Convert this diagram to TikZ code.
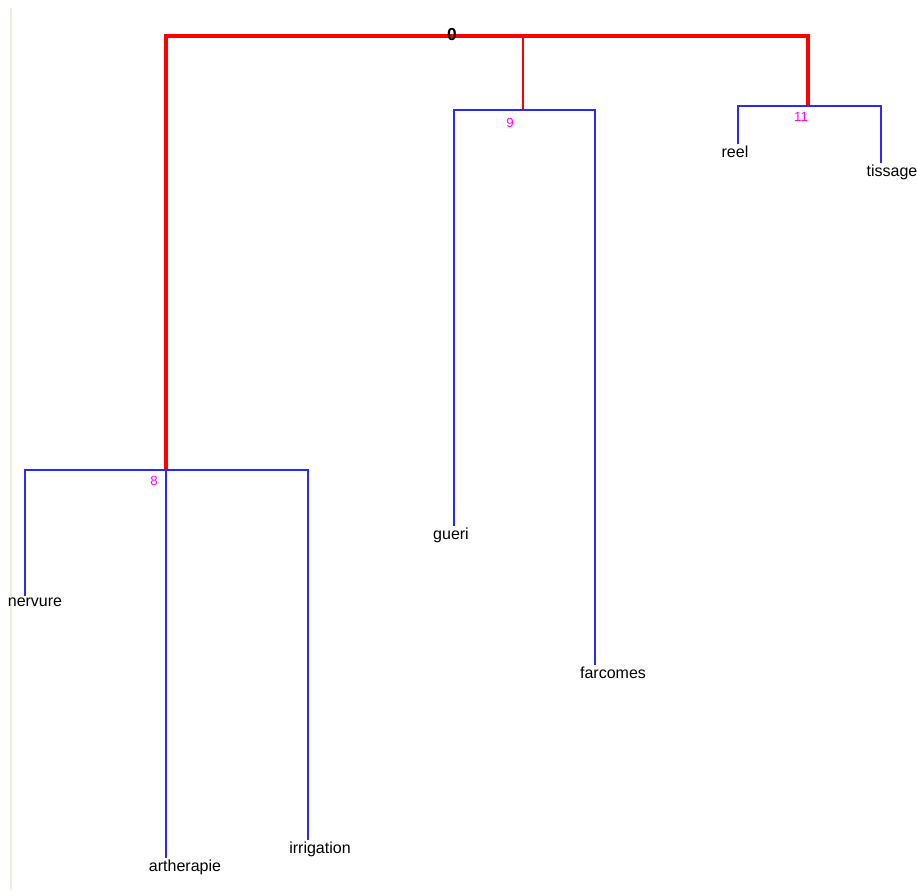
\documentclass[tikz,border=0pt]{standalone}
\usepackage{fontspec}
\setmainfont{Liberation Sans}
\definecolor{treered}{RGB}{255,0,0}
\definecolor{treeblue}{RGB}{40,40,255}
\definecolor{treemag}{RGB}{255,0,255}
\definecolor{panelline}{RGB}{240,236,222}
\tikzset{
	rootlink/.style={draw=treered,line width=3pt},
	thinlink/.style={draw=treered,line width=1.5pt},
	leaflink/.style={draw=treeblue,line width=1.5pt},
	leaf/.style={anchor=north,inner sep=1pt,font=\fontsize{12}{12}\selectfont},
	level/.style={text=treemag,inner sep=1pt,font=\fontsize{10}{10}\selectfont}
}
\begin{document}
\begin{tikzpicture}[x=0.75pt,y=-0.75pt]
	\useasboundingbox (0,0) rectangle (917,890);
	\draw[panelline,line width=1.5pt] (11,8) -- (11,890);

	% junctions
	\coordinate (r0l) at (166,36);
	\coordinate (r0m) at (523,36);
	\coordinate (r0r) at (808,36);
	\coordinate (n8) at (166,470);
	\coordinate (n8l) at (25,470);
	\coordinate (n8r) at (308,470);
	\coordinate (n9) at (523,110);
	\coordinate (n9l) at (454,110);
	\coordinate (n9r) at (595,110);
	\coordinate (n11) at (808,106);
	\coordinate (n11l) at (738,106);
	\coordinate (n11r) at (881,106);

	% leaves
	\node[leaf] (nervure) at (35,596) {nervure};
	\node[leaf] (artherapie) at (185,858) {artherapie};
	\node[leaf] (irrigation) at (320,840) {irrigation};
	\node[leaf] (gueri) at (451,526) {gueri};
	\node[leaf] (farcomes) at (613,665) {farcomes};
	\node[leaf] (reel) at (735,144) {reel};
	\node[leaf] (tissage) at (892,163) {tissage};

	% level labels
	\node[level] (lab8) at (154,481) {8};
	\node[level] (lab9) at (510,123) {9};
	\node[level] (lab11) at (801,117) {11};

	% red links
	\draw[rootlink] (n8) -- (r0l) -- (r0r) -- (n11);
	\draw[thinlink] (r0m) -- (n9);
	\node[inner sep=1pt,font=\fontsize{13}{13}\selectfont\bfseries] (lab0) at (452,35) {0};

	% blue links
	\draw[leaflink] (nervure.north -| n8l) -- (n8l) -- (n8r) -- (irrigation.north -| n8r);
	\draw[leaflink] (n8) -- (artherapie.north -| n8);
	\draw[leaflink] (gueri.north -| n9l) -- (n9l) -- (n9r) -- (farcomes.north -| n9r);
	\draw[leaflink] (reel.north -| n11l) -- (n11l) -- (n11r) -- (tissage.north -| n11r);
\end{tikzpicture}
\end{document}
